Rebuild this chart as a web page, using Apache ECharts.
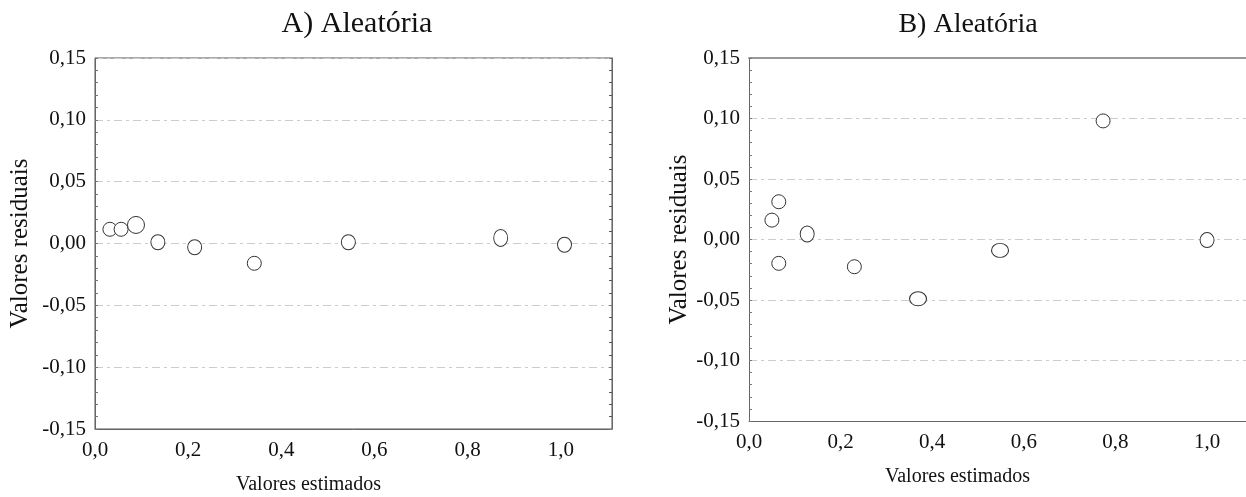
<html>
    <head>
        <meta charset="utf-8">
        <script src="https://cdn.jsdelivr.net/npm/echarts@6/dist/echarts.min.js"></script>
    </head>
    <body>
        <style>
            html, body, #main {
                width: 100%;
                height: 100%;
                margin: 0;
                background: #fff;
            }
        </style>
        <div id='main'></div>
        <script>
        // A) Aleatória: estimated vs residual
        var estA = [0.032, 0.056, 0.088, 0.135, 0.214, 0.342, 0.544, 0.871, 1.008];
        var resA = [0.0115, 0.0115, 0.0150, 0.0010, -0.0030, -0.0160, 0.0010, 0.0045, -0.0010];
        // B) Aleatória
        var estB = [0.050, 0.065, 0.065, 0.127, 0.230, 0.369, 0.548, 0.773, 1.000];
        var resB = [0.0160, 0.0312, -0.0197, 0.0045, -0.0225, -0.0490, -0.0090, 0.0980, -0.0005];

        var titles = ['A) Aleatória', 'B) Aleatória'];
        var xName = 'Valores estimados';
        var yName = 'Valores residuais';

        // marker sizes (some dots are drawn as ovals in the original)
        var sizeA = [[14, 14], [14, 14], [17, 17], [14, 15], [14, 15], [14, 14], [14, 15], [14, 17], [14, 15]];
        var sizeB = [[14, 14], [14, 14], [14, 14], [14, 16], [14, 14], [17, 14], [17, 14], [14, 14], [14, 15]];

        function pairs(xs, ys) {
            var out = [];
            for (var i = 0; i < xs.length; i++) out.push([xs[i], ys[i]]);
            return out;
        }

        var font = 'Liberation Serif';
        var txt = '#111';
        var fmtX = function (v) { return v.toFixed(1).replace('.', ','); };
        var fmtY = function (v) { return v.toFixed(2).replace('.', ','); };

        function xAxis(g, max, gap, shift) {
            return {
                type: 'value', gridIndex: g, min: 0, max: max, interval: 0.2,
                name: xName, nameLocation: 'middle', nameGap: gap,
                nameTextStyle: { fontFamily: font, fontSize: 20, color: txt, padding: [0, shift, 0, 0] },
                axisLine: { onZero: false, lineStyle: { color: '#666', width: 1 } },
                axisTick: { show: false },
                splitLine: { show: false },
                axisLabel: { fontFamily: font, fontSize: 21, color: txt, margin: 11,
                    showMaxLabel: false, formatter: fmtX }
            };
        }
        function yAxis(g, gap) {
            return {
                type: 'value', gridIndex: g, min: -0.15, max: 0.15, interval: 0.05,
                name: yName, nameLocation: 'middle', nameGap: gap,
                nameTextStyle: { fontFamily: font, fontSize: 25, color: txt },
                axisLine: { show: true, onZero: false, lineStyle: { color: '#666', width: 1 } },
                axisTick: { show: true, inside: true, length: 3, lineStyle: { color: '#777' } },
                minorTick: { show: true, splitNumber: 5, length: 3, lineStyle: { color: '#777' } },
                splitLine: { show: true, lineStyle: { color: '#ccc', type: [8, 4, 3, 4] } },
                axisLabel: { fontFamily: font, fontSize: 21, color: txt, margin: 9, formatter: fmtY }
            };
        }

        var chart = echarts.init(document.getElementById('main'));
        var rightY = yAxis(0, 0);
        rightY.position = 'right';
        rightY.name = '';
        rightY.axisLabel = { show: false };
        rightY.splitLine = { show: false };
        rightY.minorTick.lineStyle = { color: '#555' };

        // top frame line of chart B (its right edge is cut off by the picture)
        var topB = {
            type: 'value', gridIndex: 1, position: 'top', min: 0, max: 1.085,
            axisLine: { onZero: false, lineStyle: { color: '#999', width: 2 } },
            axisTick: { show: false }, axisLabel: { show: false }, splitLine: { show: false }
        };

        var option = {
            animation: false,
            title: [
                { text: titles[0], left: 352, top: 4, textAlign: 'center',
                  textStyle: { fontFamily: font, fontSize: 30, fontWeight: 'normal', color: txt } },
                { text: titles[1], left: 963, top: 6, textAlign: 'center',
                  textStyle: { fontFamily: font, fontSize: 28, fontWeight: 'normal', color: txt } }
            ],
            grid: [
                { left: 95, top: 58, width: 517, height: 371, show: true, outerBoundsMode: 'none',
                  borderColor: '#555', borderWidth: 1, backgroundColor: 'transparent' },
                { left: 749, top: 58, right: 0, height: 363, outerBoundsMode: 'none' }
            ],
            xAxis: [xAxis(0, 1.11, 46, 90), xAxis(1, 1.085, 46, 80), topB],
            yAxis: [yAxis(0, 62), yAxis(1, 46), rightY],
            series: [
                { type: 'scatter', xAxisIndex: 0, yAxisIndex: 0, data: pairs(estA, resA),
                  symbol: 'circle',
                  symbolSize: function (v, p) { return sizeA[p.dataIndex]; },
                  itemStyle: { color: '#fff', borderColor: '#333', borderWidth: 1, opacity: 1 } },
                { type: 'scatter', xAxisIndex: 1, yAxisIndex: 1, data: pairs(estB, resB),
                  symbol: 'circle',
                  symbolSize: function (v, p) { return sizeB[p.dataIndex]; },
                  itemStyle: { color: '#fff', borderColor: '#333', borderWidth: 1, opacity: 1 } }
            ]
        };
        chart.setOption(option);
        window.onresize = chart.resize;
        </script>
    </body>
</html>
